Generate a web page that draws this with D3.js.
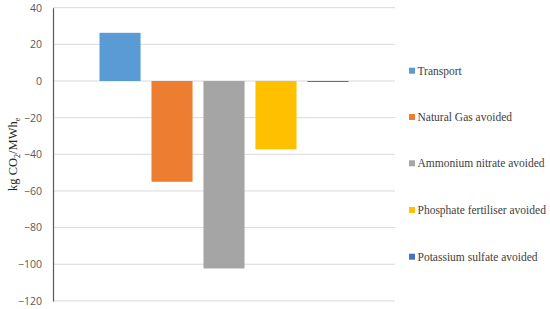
<!DOCTYPE html>
<html><head><meta charset="utf-8">
<script src="https://cdn.jsdelivr.net/npm/d3@7"></script>
<style>body{margin:0;background:#fff}</style>
</head><body>
<script>
const categories = ["Transport","Natural Gas avoided","Ammonium nitrate avoided","Phosphate fertiliser avoided","Potassium sulfate avoided"];
const values = [26.3, -55, -102.3, -37.3, -0.5];
const colors = ["#5B9BD5","#ED7D31","#A5A5A5","#FFC000","#4472C4"];
const yTicks = [40,20,0,-20,-40,-60,-80,-100,-120];

(function(){
const W=550,H=309;
const svg=d3.select("body").append("svg").attr("width",W).attr("height",H);
const pL=53,pR=395,pT=7.7,pB=300.9;
const y=d3.scaleLinear().domain([-120,40]).range([pB,pT]);
const xOuter=d3.scaleBand().domain(["g"]).range([pL,pR]).paddingInner(0).paddingOuter(0);
const bandW=xOuter.bandwidth();
const clusterW=bandW*0.76;
const x=d3.scaleBand().domain(categories).range([pL+(bandW-clusterW)/2,pL+(bandW+clusterW)/2]).paddingInner(0.21).paddingOuter(0.105);

svg.append("g").selectAll("line").data(yTicks).join("line")
 .attr("x1",pL).attr("x2",pR).attr("y1",d=>y(d)).attr("y2",d=>y(d))
 .attr("stroke","#d9d9d9").attr("stroke-width",1);

svg.append("g").selectAll("rect").data(categories).join("rect")
 .attr("x",d=>x(d)).attr("width",x.bandwidth())
 .attr("y",(d,i)=>y(Math.max(0,values[i])))
 .attr("height",(d,i)=>Math.max(1,Math.abs(y(values[i])-y(0))))
 .attr("fill",(d,i)=>colors[i]);

const ax=svg.append("g").attr("transform",`translate(${pL},0)`)
 .call(d3.axisLeft(y).tickValues(yTicks).tickSize(0).tickPadding(11).tickFormat(d3.format("d")));
ax.select(".domain").attr("stroke","#595959").attr("stroke-width",1.2);
ax.selectAll("text").attr("font-family","Open Sans, sans-serif").attr("font-size",10.5).attr("fill","#595959");

const yt=svg.append("text").attr("transform",`translate(17,${(pT+pB)/2}) rotate(-90)`)
 .attr("text-anchor","middle").attr("font-family","Liberation Serif, serif").attr("font-size",12.5).attr("fill","#262626");
yt.append("tspan").text("kg CO");
yt.append("tspan").attr("font-size",8).attr("dy",3).text("2");
yt.append("tspan").attr("dy",-3).text("/MWh");
yt.append("tspan").attr("font-size",8).attr("dy",3).text("e");

const legY=[70.7,117,163.3,210,256.7];
const lg=svg.append("g").selectAll("g").data(categories).join("g")
 .attr("transform",(d,i)=>`translate(409,${legY[i]})`);
lg.append("rect").attr("x",0).attr("y",-3).attr("width",6).attr("height",6).attr("fill",(d,i)=>colors[i]);
lg.append("text").attr("x",8.5).attr("y",4).attr("font-family","Liberation Serif, serif").attr("font-size",11.5).attr("fill","#404040").text(d=>d);
})();
</script>
</body></html>
